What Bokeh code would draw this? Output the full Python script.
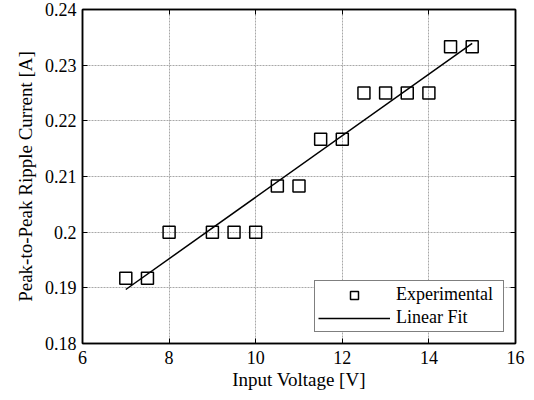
from bokeh.plotting import figure
from bokeh.models import LinearAxis, FixedTicker, Range1d, Legend, LegendItem
from bokeh.embed import file_html
from bokeh.resources import INLINE

# Measured ripple current versus input voltage
voltage = [7, 7.5, 8, 9, 9.5, 10, 10.5, 11, 11.5, 12, 12.5, 13, 13.5, 14, 14.5, 15]
ripple = [0.1917, 0.1917, 0.2, 0.2, 0.2, 0.2, 0.2083, 0.2083, 0.2167, 0.2167,
          0.225, 0.225, 0.225, 0.225, 0.2333, 0.2333]

# Endpoints of the linear fit
fit_v = [7, 15]
fit_i = [0.1897, 0.2339]

x_ticks = [6, 8, 10, 12, 14, 16]
y_ticks = [0.18, 0.19, 0.20, 0.21, 0.22, 0.23, 0.24]
y_tick_labels = {0.18: "0.18", 0.19: "0.19", 0.2: "0.2", 0.21: "0.21",
                 0.22: "0.22", 0.23: "0.23", 0.24: "0.24"}

FONT = "Liberation Serif"

p = figure(width=534, height=400, frame_width=433, frame_height=334,
           x_range=Range1d(6, 16), y_range=Range1d(0.18, 0.24),
           output_backend="svg", toolbar_location=None,
           min_border_left=82, min_border_right=19, min_border_top=9,
           min_border_bottom=57, x_axis_label="Input Voltage [V]",
           y_axis_label="Peak-to-Peak Ripple Current [A]")
p.background_fill_color = "white"
p.outline_line_color = "black"
p.outline_line_width = 1.5

for ax in (p.xaxis[0], p.yaxis[0]):
    ax.major_tick_in = 5
    ax.major_tick_out = 0
    ax.minor_tick_in = 0
    ax.minor_tick_out = 0
    ax.axis_line_color = "black"
    ax.axis_line_width = 1.5
    ax.major_tick_line_width = 1
    ax.major_label_text_font = FONT
    ax.major_label_text_font_size = "18px"
    ax.major_label_text_color = "black"
    ax.axis_label_text_font = FONT
    ax.axis_label_text_font_size = "19px"
    ax.axis_label_text_font_style = "normal"
    ax.axis_label_text_color = "black"

p.xaxis[0].ticker = FixedTicker(ticks=x_ticks)
p.yaxis[0].ticker = FixedTicker(ticks=y_ticks)
p.yaxis[0].major_label_overrides = y_tick_labels
p.xaxis[0].major_label_standoff = 7
p.yaxis[0].major_label_standoff = 6
p.xaxis[0].axis_label_standoff = 2
p.yaxis[0].axis_label_standoff = 6

# Mirrored tick marks on the top and right edges
top = LinearAxis(ticker=FixedTicker(ticks=x_ticks),
                 major_label_overrides={t: "" for t in x_ticks},
                 major_tick_in=5, major_tick_out=0, minor_tick_in=0, minor_tick_out=0,
                 axis_line_width=1.5, major_label_standoff=0)
right = LinearAxis(ticker=FixedTicker(ticks=y_ticks),
                   major_label_overrides={t: "" for t in y_ticks},
                   major_tick_in=5, major_tick_out=0, minor_tick_in=0, minor_tick_out=0,
                   axis_line_width=1.5, major_label_standoff=0)
p.add_layout(top, "above")
p.add_layout(right, "right")

for g in (p.xgrid[0], p.ygrid[0]):
    g.grid_line_color = "#a8a8a8"
    g.grid_line_dash = "2 1"
    g.grid_line_width = 1
p.xgrid[0].ticker = FixedTicker(ticks=x_ticks)
p.ygrid[0].ticker = FixedTicker(ticks=y_ticks)

pts = p.scatter(voltage, ripple, marker="square", size=12, fill_color=None,
                line_color="black", line_width=1.5)
fit = p.line(fit_v, fit_i, line_color="black", line_width=1.5)

legend = Legend(items=[LegendItem(label="Experimental", renderers=[pts]),
                       LegendItem(label="Linear Fit", renderers=[fit])],
                location="bottom_right")
legend.margin = 11
legend.padding = 3
legend.spacing = 2
legend.glyph_width = 72
legend.glyph_height = 20
legend.label_height = 20
legend.label_width = 104
legend.label_standoff = 6
legend.label_text_font = FONT
legend.label_text_font_size = "18px"
legend.label_text_color = "black"
legend.border_line_color = "black"
legend.border_line_width = 1.5
legend.background_fill_alpha = 1
p.add_layout(legend, "center")

open("out.html", "w").write(file_html(p, INLINE))
